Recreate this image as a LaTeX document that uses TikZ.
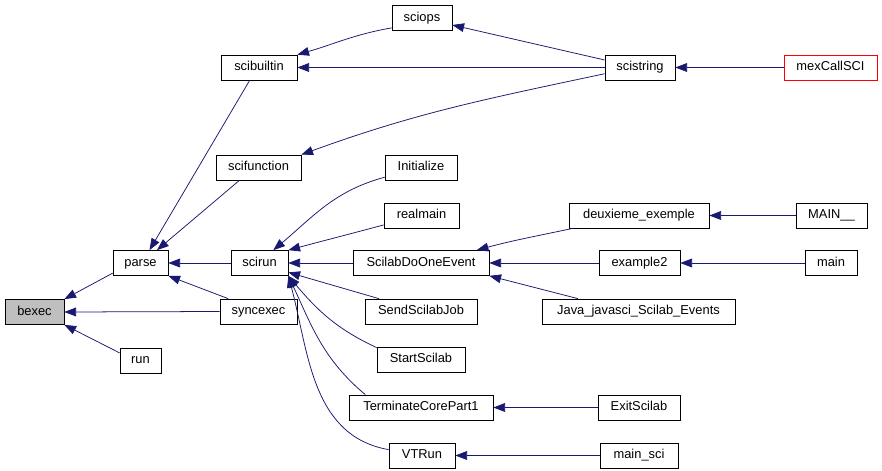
\documentclass[tikz,border=0pt]{standalone}
\usepackage{fontspec}
\setmainfont{Liberation Sans}
\usetikzlibrary{arrows.meta}
\definecolor{edgeblue}{HTML}{191970}
\definecolor{rootgray}{HTML}{BFBFBF}
\tikzset{
  fn/.style={draw, line width=0.6pt, inner sep=0pt, minimum height=25*0.03cm,
    text height=8pt, text depth=2.5pt, font=\fontsize{11}{13}\selectfont},
  wd/.style={minimum width=#1*0.03cm},
  call/.style={edgeblue, line width=0.65pt, -{Triangle[length=10pt,width=7.5pt]}}
}
\begin{document}
\begin{tikzpicture}[x=0.03cm, y=0.03cm]
  \useasboundingbox (0,0) rectangle (882,-471);
  \node (bexec) at (34.5,-312) [fn, wd=59, fill=rootgray] {bexec};
  \node (parse) at (140.5,-263) [fn, wd=55] {parse};
  \node (run) at (140.5,-360.5) [fn, wd=41] {run};
  \node (scirun) at (259.5,-263) [fn, wd=57] {scirun};
  \node (syncexec) at (258.5,-311.5) [fn, wd=77] {syncexec};
  \node (scibuiltin) at (259,-67.5) [fn, wd=76] {scibuiltin};
  \node (scifunction) at (258.5,-167.5) [fn, wd=85] {scifunction};
  \node (sciops) at (422,-18) [fn, wd=60] {sciops};
  \node (initialize) at (421,-167.5) [fn, wd=72] {Initialize};
  \node (realmain) at (421.5,-215.5) [fn, wd=75] {realmain};
  \node (doevent) at (421,-263) [fn, wd=136] {ScilabDoOneEvent};
  \node (sendjob) at (421,-311.5) [fn, wd=112] {SendScilabJob};
  \node (startscilab) at (421,-359.5) [fn, wd=88] {StartScilab};
  \node (terminate) at (421,-407.5) [fn, wd=144] {TerminateCorePart1};
  \node (vtrun) at (422,-455.5) [fn, wd=66] {VTRun};
  \node (scistring) at (640,-67.5) [fn, wd=70] {scistring};
  \node (deuxieme) at (639,-215.5) [fn, wd=140] {deuxieme\_exemple};
  \node (example2) at (639.5,-263) [fn, wd=81] {example2};
  \node (javaevents) at (638.5,-311.5) [fn, wd=193] {Java\_javasci\_Scilab\_Events};
  \node (exitscilab) at (639,-407.5) [fn, wd=82] {ExitScilab};
  \node (mainsci) at (639,-455.5) [fn, wd=78] {main\_sci};
  \node (mexcall) at (830.5,-67.5) [fn, wd=93, draw=red] {mexCallSCI};
  \node (MAIN) at (831.5,-215.5) [fn, wd=71] {MAIN\_\_};
  \node (main) at (831,-263) [fn, wd=52] {main};
  \foreach \a/\b in {syncexec/bexec, scirun/parse, scistring/scibuiltin,
    mexcall/scistring, doevent/scirun, example2/doevent, MAIN/deuxieme,
    main/example2, exitscilab/terminate, mainsci/vtrun}
  \draw[call] (\a.west) -- (\b.east);
  \draw[call] (parse.200) -- (bexec.north east);
  \draw[call] (run.160) -- (bexec.south east);
  \draw[call] (syncexec.157) -- (parse.south east);
  \draw[call] (scibuiltin.234) -- (parse.55);
  \draw[call] (scifunction.214) -- (parse.38);
  \draw[call] (sciops.198) to[out=190, in=16] (scibuiltin.north east);
  \draw[call] (scistring.168) -- (sciops.347);
  \draw[call] (scistring.190) to[out=192, in=20] (scifunction.north east);
  \draw[call] (initialize.195) to[out=195, in=40] (scirun.43);
  \draw[call] (realmain.194) to[out=195, in=15] (scirun.north east);
  \draw[call] (sendjob.163) -- (scirun.342);
  \draw[call] (startscilab.165) to[out=155, in=310] (scirun.south east);
  \draw[call] (terminate.167) to[out=140, in=295] (scirun.south east);
  \draw[call] (vtrun.170) to[out=170, in=285] (scirun.south east);
  \draw[call] (deuxieme.191) to[out=192, in=15] (doevent.13);
  \draw[call] (javaevents.168) -- (doevent.south east);
\end{tikzpicture}
\end{document}
